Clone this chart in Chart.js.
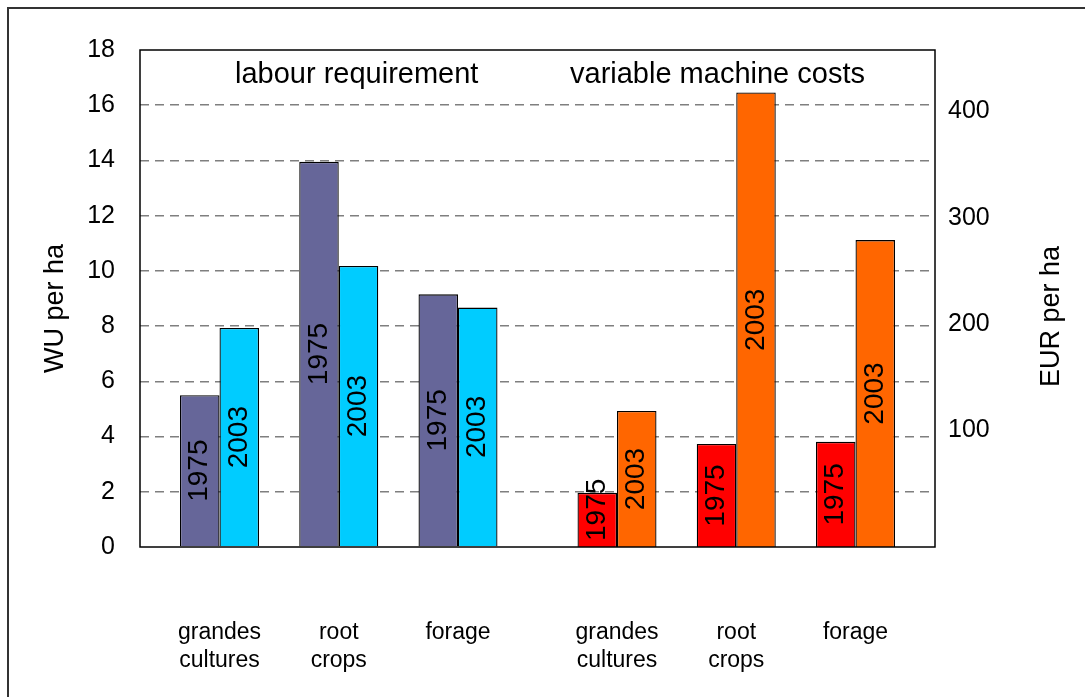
<!DOCTYPE html>
<html>
<head>
<meta charset="utf-8">
<title>Labour requirement and variable machine costs</title>
<script src="https://cdn.jsdelivr.net/npm/chart.js@4.4.1/dist/chart.umd.min.js"></script>
<style>
  body { margin: 0; background: #fff; }
  #wrap { width: 1085px; height: 697px; }
</style>
</head>
<body>
<div id="wrap"><canvas id="chart" width="1085" height="697"></canvas></div>
<script>
// crop groups, same for both panels
const categories = ['grandes cultures', 'root crops', 'forage'];
const years = ['1975', '2003'];

// labour requirement, WU per ha (left axis)
const labour1975 = [5.5, 13.95, 9.15];
const labour2003 = [7.93, 10.18, 8.67];

// variable machine costs, EUR per ha (right axis)
const costs1975 = [41, 87, 89];
const costs2003 = [118, 418, 279];

// tick labels
const wuTicks = [0, 2, 4, 6, 8, 10, 12, 14, 16, 18];
const eurTicks = [100, 200, 300, 400];
// the EUR axis in the picture runs from a little below zero
const eurMin = -10;
const eurMax = 458;

const panelTitles = ['labour requirement', 'variable machine costs'];
const axisTitles = ['WU per ha', 'EUR per ha'];

const fontFamily = '"Liberation Sans", Arial, Helvetica, sans-serif';
Chart.defaults.font.family = fontFamily;
Chart.defaults.color = '#000';

// the right panel starts a third of a slot after the left one
const groupGap = 1 / 3;
const leftPos = categories.map((c, i) => i);
const rightPos = categories.map((c, i) => i + categories.length + groupGap);
const slotPos = leftPos.concat(rightPos);
const slotLabels = categories.concat(categories).map(c => c.split(' '));

function points(pos, values) {
  return values.map((v, i) => ({ x: pos[i], y: v }));
}

function drawVertical(ctx, text, x, y) {
  ctx.save();
  ctx.translate(x, y);
  ctx.rotate(-Math.PI / 2);
  ctx.fillText(text, 0, 0);
  ctx.restore();
}

// frame, year labels in the bars, titles
const decorations = {
  id: 'decorations',
  beforeDraw(chart) {
    const ctx = chart.ctx;
    ctx.save();
    ctx.fillStyle = '#fff';
    ctx.fillRect(0, 0, chart.width, chart.height);
    ctx.strokeStyle = '#333';
    ctx.lineWidth = 2;
    ctx.beginPath();
    ctx.moveTo(8, chart.height);
    ctx.lineTo(8, 8);
    ctx.lineTo(chart.width, 8);
    ctx.stroke();
    ctx.restore();
  },
  afterDatasetsDraw(chart) {
    const ctx = chart.ctx;
    const area = chart.chartArea;
    ctx.save();

    ctx.font = '28px ' + fontFamily;
    ctx.fillStyle = '#000';
    ctx.textAlign = 'center';
    ctx.textBaseline = 'middle';
    chart.data.datasets.forEach((ds, i) => {
      chart.getDatasetMeta(i).data.forEach(bar => {
        const p = bar.getProps(['x', 'y', 'base'], true);
        const half = ctx.measureText(ds.label).width / 2;
        let cy = (p.y + p.base) / 2;
        if (cy + half > area.bottom - 6) cy = area.bottom - 6 - half;
        drawVertical(ctx, ds.label, p.x, cy);
      });
    });

    ctx.strokeStyle = '#000';
    ctx.lineWidth = 1.5;
    ctx.strokeRect(area.left, area.top, area.right - area.left, area.bottom - area.top);

    ctx.font = '29px ' + fontFamily;
    ctx.textAlign = 'left';
    ctx.textBaseline = 'alphabetic';
    ctx.fillText(panelTitles[0], area.left + 95, area.top + 33);
    ctx.fillText(panelTitles[1], area.left + 430, area.top + 33);

    ctx.font = '27px ' + fontFamily;
    ctx.textAlign = 'center';
    ctx.textBaseline = 'middle';
    const midY = (area.top + area.bottom) / 2;
    drawVertical(ctx, axisTitles[0], area.left - 84, midY + 10);
    drawVertical(ctx, axisTitles[1], area.right + 117, midY + 18);
    ctx.restore();
  }
};

const chart = new Chart(document.getElementById('chart'), {
  type: 'bar',
  data: {
    datasets: [
      { label: years[0], data: points(leftPos, labour1975), backgroundColor: '#666699', yAxisID: 'y', stack: 'a' },
      { label: years[1], data: points(leftPos, labour2003), backgroundColor: '#00ccff', yAxisID: 'y', stack: 'b' },
      { label: years[0], data: points(rightPos, costs1975), backgroundColor: '#ff0000', yAxisID: 'y1', stack: 'a', base: eurMin },
      { label: years[1], data: points(rightPos, costs2003), backgroundColor: '#ff6600', yAxisID: 'y1', stack: 'b', base: eurMin }
    ]
  },
  options: {
    responsive: false,
    animation: false,
    devicePixelRatio: 1,
    layout: { padding: { top: 50, left: 0, right: 0, bottom: 0 } },
    datasets: {
      bar: {
        borderColor: '#000',
        borderWidth: 1.3,
        categoryPercentage: 0.6625,
        barPercentage: 1
      }
    },
    plugins: {
      legend: { display: false },
      tooltip: { enabled: false }
    },
    scales: {
      x: {
        type: 'linear',
        offset: false,
        min: -2 / 3,
        max: slotPos[slotPos.length - 1] + 2 / 3,
        grid: { display: false, drawTicks: false, offset: false },
        border: { display: false },
        afterBuildTicks: s => { s.ticks = slotPos.map(v => ({ value: v })); },
        afterFit: s => { s.height = 150; },
        ticks: {
          callback: (v, i) => slotLabels[i],
          font: { size: 23, lineHeight: 1.22 },
          padding: 72,
          maxRotation: 0,
          minRotation: 0,
          autoSkip: false
        }
      },
      y: {
        position: 'left',
        stacked: false,
        min: wuTicks[0],
        max: wuTicks[wuTicks.length - 1],
        afterBuildTicks: s => { s.ticks = wuTicks.map(v => ({ value: v })); },
        afterFit: s => { s.width = 140; },
        grid: {
          drawTicks: false,
          lineWidth: 1.5,
          color: c => (c.tick.value === wuTicks[0] || c.tick.value === wuTicks[wuTicks.length - 1]) ? 'rgba(0,0,0,0)' : '#7f7f7f'
        },
        border: { display: false, dash: [9, 6] },
        ticks: { font: { size: 25 }, padding: 25 }
      },
      y1: {
        position: 'right',
        stacked: false,
        min: eurMin,
        max: eurMax,
        afterBuildTicks: s => { s.ticks = eurTicks.map(v => ({ value: v })); },
        afterFit: s => { s.width = 150; },
        grid: { display: false, drawTicks: false },
        border: { display: false },
        ticks: { font: { size: 25 }, padding: 13 }
      }
    }
  },
  plugins: [decorations]
});
</script>
</body>
</html>
